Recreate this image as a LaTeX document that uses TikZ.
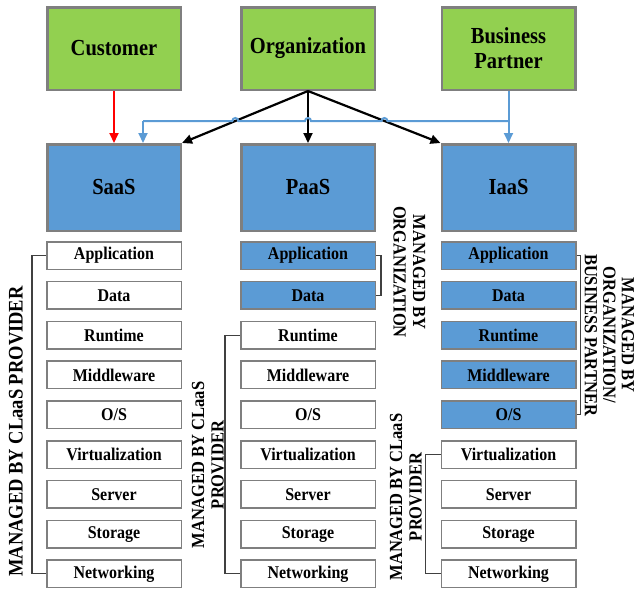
\documentclass[tikz,border=0pt]{standalone}
\usepackage{fontspec}
\usepackage{graphicx}
\setmainfont{Liberation Serif}
\usetikzlibrary{arrows.meta,calc}
\definecolor{leafgreen}{HTML}{92D050}
\definecolor{skyblue}{HTML}{5B9BD5}
\definecolor{boxedge}{HTML}{7F7F7F}
\definecolor{linkblue}{HTML}{5B9BD5}
\definecolor{bracketgray}{HTML}{404040}
% slightly tall lettering
\newcommand{\tall}[1]{\scalebox{1}[1.12]{#1}}
\begin{document}
\begin{tikzpicture}[x=1pt,y=-1pt,
  party/.style={draw=boxedge,line width=2.5pt,fill=leafgreen,
    minimum width=133.5pt,minimum height=82.5pt,inner sep=0pt,align=center,
    font=\fontsize{20.5}{25}\selectfont\bfseries},
  service/.style={party,fill=skyblue,minimum height=86.5pt},
  layer/.style={draw=boxedge,line width=1.5pt,minimum width=134.5pt,
    minimum height=27.5pt,inner sep=0pt,font=\fontsize{16}{19}\selectfont\bfseries},
  bracket/.style={draw=bracketgray,line width=1.1pt},
  tag/.style={align=center,inner sep=0pt,font=\fontsize{16.5}{19.5}\selectfont\bfseries},
  tip/.style={-{Triangle[length=10pt,width=9pt]}},
  orgarrow/.style={tip,draw=black,line width=2.2pt},
  custarrow/.style={tip,draw=red,line width=2pt},
  partnerlink/.style={draw=linkblue,line width=2pt}]
\useasboundingbox (0,0) rectangle (637,589);

% parties
\node[party] (cust) at (114,48.5) {\tall{Customer}};
\node[party] (org)  at (308,48.5) {\tall{Organization}};
\node[party] (bp)   at (508.5,48.5) {\tall{Business}\\\tall{Partner}};

% service models
\node[service] (saas) at (114,187.5) {\tall{SaaS}};
\node[service] (paas) at (308,187.5) {\tall{PaaS}};
\node[service] (iaas) at (508.5,187.5) {\tall{IaaS}};

% layer stacks
\foreach \name [count=\k from 0] in {Application,Data,Runtime,Middleware,O/S,Virtualization,Server,Storage,Networking}{
  \node[layer,fill=white] (s\k) at (114,{255.5+39.8*\k}) {\tall{\name}};
  \ifnum\k<2 \def\boxfill{skyblue}\else\def\boxfill{white}\fi
  \node[layer,fill=\boxfill] (p\k) at (308,{255.5+39.8*\k}) {\tall{\name}};
  \ifnum\k<5 \def\boxfill{skyblue}\else\def\boxfill{white}\fi
  \node[layer,fill=\boxfill] (i\k) at (508.5,{255.5+39.8*\k}) {\tall{\name}};
}

% brackets
\draw[bracket] (s0.west) -- ++(-14,0) |- (s8.west);
\draw[bracket] (p2.west) -- ++(-15,0) |- (p8.west);
\draw[bracket] (i5.west) -- ++(-15,0) |- (i8.west);
\draw[bracket] (p0.east) -- ++(5,0) |- (p1.east);
\draw[bracket] (i0.east) -- ++(4,0) |- (i4.east);

% responsibility labels
\node[tag,rotate=90] (ls) at (16,431.5) {\fontsize{18.5}{22}\selectfont\tall{MANAGED BY CLaaS PROVIDER}};
\node[tag,rotate=90] (lp) at (208,465) {\tall{MANAGED BY CLaaS}\\\tall{PROVIDER}};
\node[tag,rotate=90] (li) at (406,497) {\tall{MANAGED BY CLaaS}\\\tall{PROVIDER}};
\node[tag,rotate=-90] (lpo) at (409.5,272) {\tall{MANAGED BY}\\\tall{ORGANIZATION}};
\node[tag,rotate=-90,font=\fontsize{16.5}{18.5}\selectfont\bfseries] (lio) at (609.5,335)
  {\tall{MANAGED BY}\\\tall{ORGANIZATION/}\\\tall{BUSINESS PARTNER}};

% customer link
\draw[custarrow] (cust.south) -- (saas.north);

% organization links
\draw[orgarrow] (org.south) -- (saas.north east);
\draw[orgarrow] (org.south) -- (paas.north);
\draw[orgarrow] (org.south) -- (iaas.north west);

% business partner links, hopping over the organization links
\coordinate (lvl) at (0,121);
\coordinate (lvlr) at (637,121);
\coordinate (bjoin) at (bp.south |- lvl);
\coordinate (sdrop) at (143,121);
\coordinate (sin) at (sdrop |- saas.north);
\coordinate (hl) at (intersection of org.south--saas.north east and lvl--lvlr);
\coordinate (hm) at (org.south |- lvl);
\coordinate (hr) at (intersection of org.south--iaas.north west and lvl--lvlr);
\draw[partnerlink,tip] (bp.south) -- (iaas.north);
\draw[partnerlink] (bjoin) -- ($(hr)+(3,0)$) arc[start angle=0,end angle=-180,radius=3]
  -- ($(hm)+(3,0)$) arc[start angle=0,end angle=-180,radius=3]
  -- ($(hl)+(3,0)$) arc[start angle=0,end angle=-180,radius=3]
  -- (sdrop);
\draw[partnerlink,tip] (sdrop) -- (sin);
\end{tikzpicture}
\end{document}
